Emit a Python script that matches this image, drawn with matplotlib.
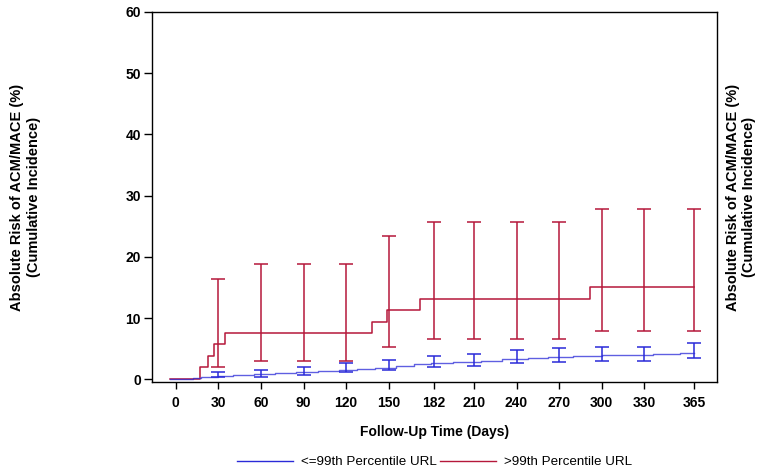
import matplotlib
matplotlib.use("Agg")
import matplotlib.pyplot as plt
from matplotlib.lines import Line2D

plt.rcParams['font.family'] = ['Liberation Sans', 'DejaVu Sans']

# step curve, >99th percentile URL
red_days = [-4, 17, 23, 27, 35, 138, 149, 172, 292, 365]
red_risk = [0.0, 1.96, 3.75, 5.7, 7.56, 9.4, 11.3, 13.1, 15.1, 15.1]

# step curve, <=99th percentile URL
blue_days = [-4, 12, 18, 24, 30, 40, 55, 70, 85, 100, 115, 128, 140, 155,
             168, 180, 195, 215, 230, 248, 262, 280, 300, 336, 355, 365]
blue_risk = [0.0, 0.15, 0.3, 0.45, 0.6, 0.7, 0.87, 1.0, 1.2, 1.35, 1.55, 1.73,
             1.9, 2.2, 2.45, 2.7, 2.85, 3.0, 3.3, 3.48, 3.65, 3.75, 3.9, 4.2,
             4.3, 4.3]

# confidence intervals at the tick days
ci_days = [30, 60, 90, 120, 150, 182, 210, 240, 270, 300, 330, 365]
red_lo = [1.96, 2.94, 2.94, 2.94, 5.2, 6.5, 6.5, 6.5, 6.5, 7.9, 7.9, 7.9]
red_hi = [16.4, 18.9, 18.9, 18.9, 23.4, 25.7, 25.7, 25.7, 25.7, 27.8, 27.8, 27.8]
blue_lo = [0.38, 0.43, 0.65, 1.14, 1.47, 1.96, 2.1, 2.6, 2.78, 2.94, 2.94, 3.43]
blue_hi = [1.15, 1.47, 1.96, 2.6, 3.1, 3.75, 4.08, 4.8, 5.06, 5.2, 5.2, 5.9]

xticks = [0, 30, 60, 90, 120, 150, 182, 210, 240, 270, 300, 330, 365]
yticks = [0, 10, 20, 30, 40, 50, 60]

RED = '#b5183a'
BLUE = '#2a2ad8'

fig = plt.figure(figsize=(7.57, 4.74), dpi=100)
ax = fig.add_axes([0.2008, 0.1947, 0.746, 0.78])

ax.step(red_days, red_risk, where='post', color=RED, lw=1.1)
ax.step(blue_days, blue_risk, where='post', color=BLUE, lw=1.0, alpha=0.75)

def draw_ci(lo, hi, color):
    mid = [(a + b) / 2 for a, b in zip(lo, hi)]
    half = [(b - a) / 2 for a, b in zip(lo, hi)]
    ax.errorbar(ci_days, mid, yerr=half, fmt='none', ecolor=color,
                elinewidth=1.1, capsize=4.7, capthick=1.1)

draw_ci(red_lo, red_hi, RED)
draw_ci(blue_lo, blue_hi, BLUE)

ax.set_xlim(-16.7, 381)
ax.set_ylim(-0.4, 60)
ax.set_xticks(xticks)
ax.set_yticks(yticks)
ax.tick_params(direction='out', width=1, labelsize=10)
ax.tick_params(axis='x', length=5, pad=5)
ax.tick_params(axis='y', length=6, pad=2)
for lab in ax.get_xticklabels() + ax.get_yticklabels():
    lab.set_fontweight('bold')
for s in ax.spines.values():
    s.set_linewidth(1.0)

ax.set_xlabel('Follow-Up Time (Days)', fontsize=10, fontweight='bold', labelpad=11)

ylab = 'Absolute Risk of ACM/MACE (%)\n(Cumulative Incidence)'
fig.text(0.034, 0.584, ylab, rotation=90, ha='center', va='center',
         fontsize=10.5, fontweight='bold', linespacing=1.25)
fig.text(0.979, 0.584, ylab, rotation=90, ha='center', va='center',
         fontsize=10.5, fontweight='bold', linespacing=1.25)

handles = [Line2D([], [], color=BLUE, lw=1),
           Line2D([], [], color=RED, lw=1)]
fig.legend(handles, ['<=99th Percentile URL', '>99th Percentile URL'],
           loc='center', bbox_to_anchor=(0.574, 0.025), ncol=2, frameon=False,
           fontsize=9.6, handlelength=4.2, columnspacing=0.3, handletextpad=0.6)

fig.savefig('out.png', dpi=100)
